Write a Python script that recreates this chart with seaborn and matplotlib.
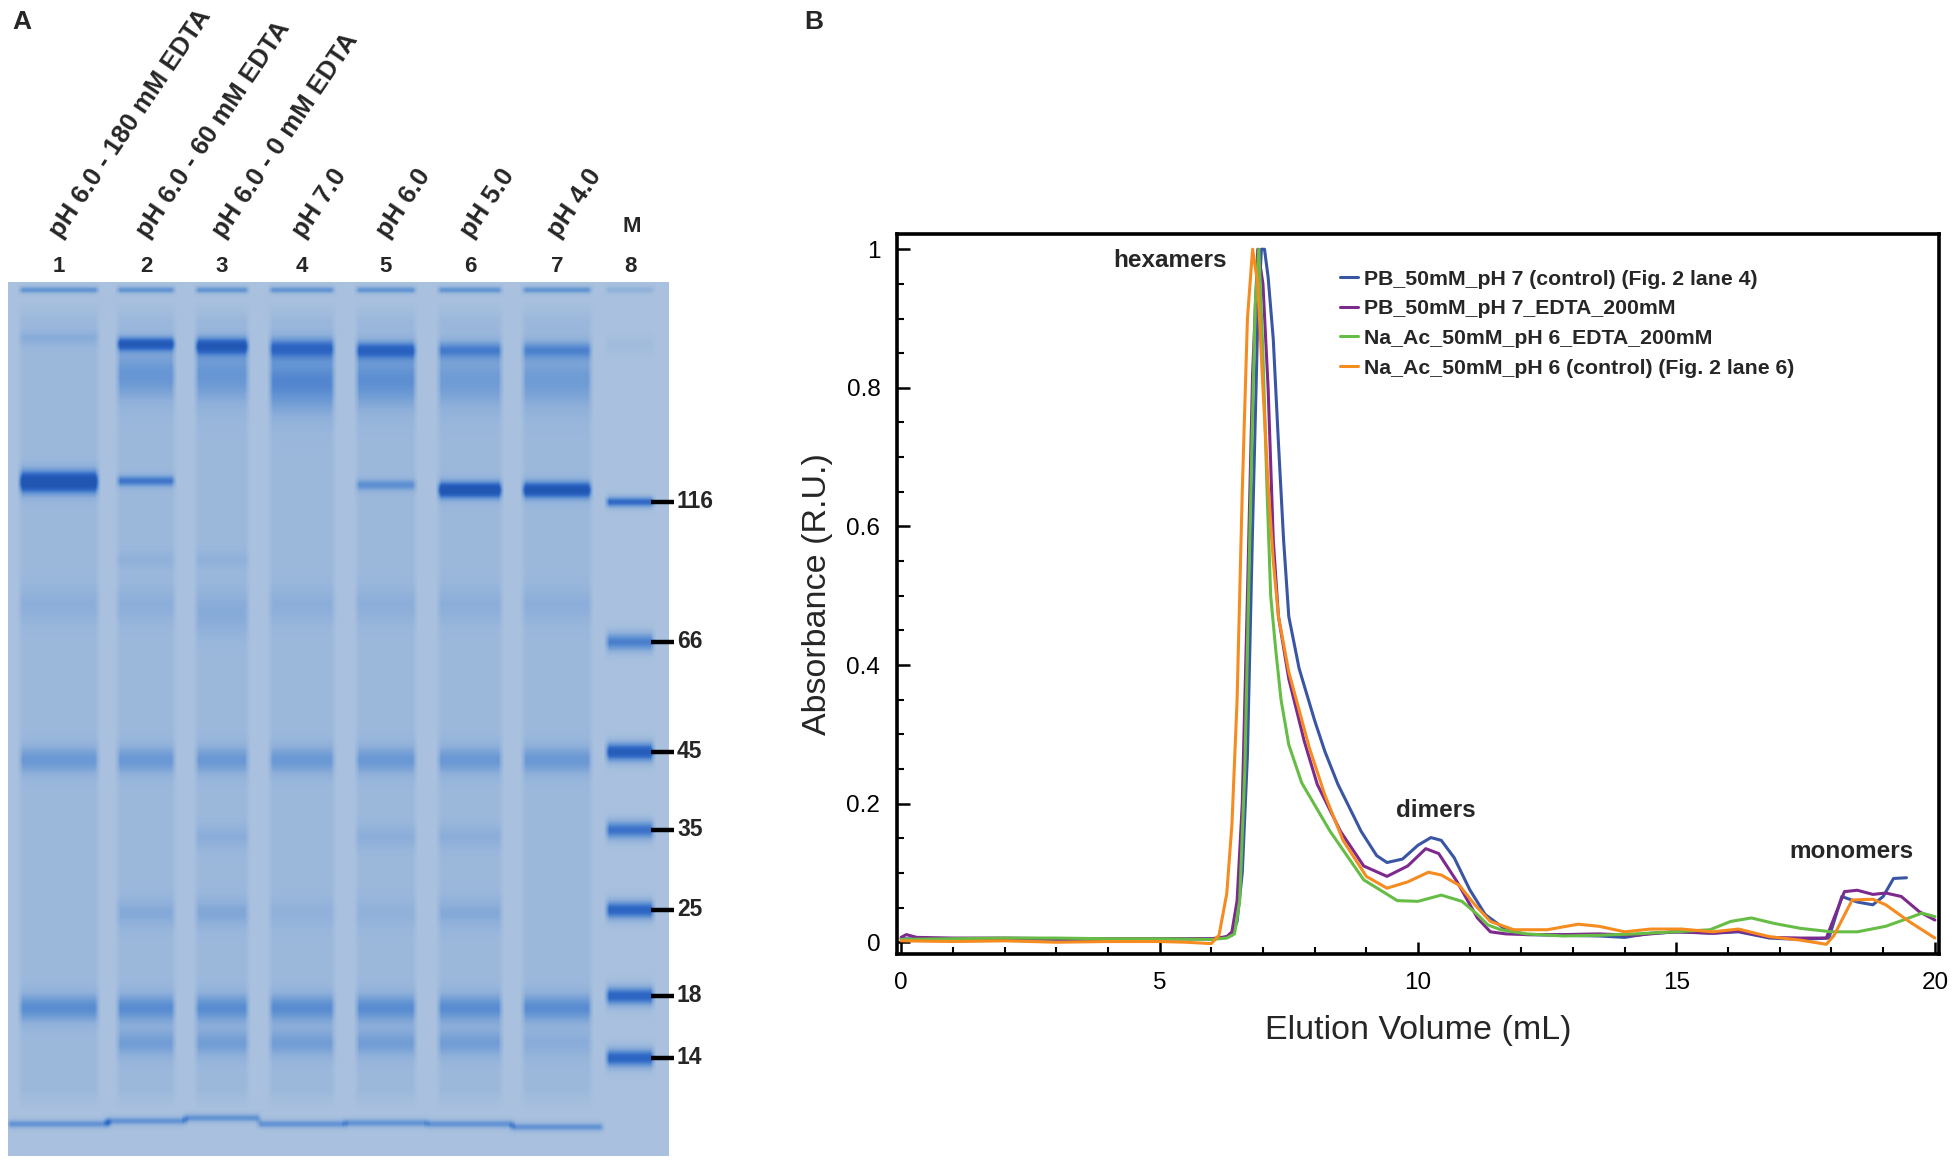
import numpy as np
import pandas as pd
import matplotlib
matplotlib.use("Agg")
import matplotlib.pyplot as plt
import seaborn as sns
from matplotlib.colors import LinearSegmentedColormap
from matplotlib.ticker import MultipleLocator

# ---------------- panel A: SDS-PAGE gel (band table) ----------------
lane_numbers = ["1", "2", "3", "4", "5", "6", "7", "8"]
lane_labels = ["pH 6.0 - 180 mM EDTA", "pH 6.0 - 60 mM EDTA", "pH 6.0 - 0 mM EDTA",
               "pH 7.0", "pH 6.0", "pH 5.0", "pH 4.0", "M"]
lane_centers = [59, 146, 222, 302, 386, 470, 557, 630]
lane_widths = [78, 57, 52, 64, 59, 63, 68, 47]

marker_kda = [116, 66, 45, 35, 25, 18, 14]
marker_pos = [502, 642, 752, 830, 910, 996, 1058]
marker_level = [0.75, 0.62, 0.9, 0.7, 0.8, 0.8, 0.8]

# (lane, position, stain level, spread)
well_bands = [(l, 290, 0.5 if l < 8 else 0.22, 2.5) for l in range(1, 9)]
top_bands = [(1, 338, 0.16, 5), (2, 344, 0.75, 5), (2, 375, 0.35, 18),
             (3, 346, 0.75, 6), (3, 375, 0.35, 20), (4, 348, 0.55, 7), (4, 382, 0.45, 22),
             (5, 350, 0.6, 6), (5, 380, 0.4, 20), (6, 350, 0.42, 6), (6, 380, 0.3, 20),
             (7, 350, 0.38, 6), (7, 380, 0.3, 20), (8, 345, 0.08, 6)]
main_bands = [(1, 482, 1.0, 8), (2, 481, 0.55, 4), (5, 485, 0.4, 4),
              (6, 490, 0.95, 6), (7, 490, 0.9, 6)]
sample_bands = ([(l, 605, 0.14, 12) for l in range(1, 8)] +
                [(2, 560, 0.1, 6), (3, 560, 0.1, 6), (3, 625, 0.1, 10)] +
                [(l, 760, 0.33, 10) for l in range(1, 8)] +
                [(3, 837, 0.15, 8), (5, 837, 0.14, 8), (6, 837, 0.14, 8)] +
                [(2, 913, 0.18, 10), (3, 913, 0.2, 10), (4, 913, 0.1, 10),
                 (5, 913, 0.1, 10), (6, 913, 0.18, 10)] +
                [(l, 1008, 0.42, 10) for l in range(1, 8)] +
                [(l, 1043, 0.28, 10) for l in range(2, 7)] + [(7, 1043, 0.15, 10)])
dye_front = [(1, 1124, 0.5, 3), (2, 1121, 0.5, 3), (3, 1118, 0.5, 3), (4, 1124, 0.5, 3),
             (5, 1123, 0.5, 3), (6, 1124, 0.5, 3), (7, 1127, 0.5, 3)]

# ---------------- panel B: SEC elution profiles ----------------
series_names = ["PB_50mM_pH 7 (control) (Fig. 2 lane 4)",
                "PB_50mM_pH 7_EDTA_200mM",
                "Na_Ac_50mM_pH 6_EDTA_200mM",
                "Na_Ac_50mM_pH 6 (control) (Fig. 2 lane 6)"]
series_colors = ["#3a55a4", "#7d2a8e", "#66bd46", "#f68b1f"]

pb_ctrl_x = [0, 1, 2, 3, 4, 5, 6, 6.2, 6.4, 6.5, 6.6, 6.7, 6.8, 6.9, 6.97, 7.03, 7.1,
             7.2, 7.3, 7.4, 7.5, 7.7, 8.0, 8.2, 8.45, 8.9, 9.2, 9.4, 9.7, 10.0, 10.25,
             10.45, 10.7, 11.0, 11.3, 11.7, 12.1, 12.8, 13.5, 14.0, 14.5, 15.1, 15.7,
             16.2, 16.8, 17.4, 17.95, 18.2, 18.5, 18.8, 19.0, 19.2, 19.45]
pb_ctrl_y = [0.005, 0.004, 0.005, 0.004, 0.004, 0.005, 0.005, 0.006, 0.01, 0.03, 0.1,
             0.27, 0.6, 0.9, 1.0, 1.0, 0.96, 0.87, 0.72, 0.58, 0.47, 0.395, 0.32, 0.275,
             0.228, 0.16, 0.125, 0.115, 0.12, 0.14, 0.151, 0.147, 0.122, 0.076, 0.04,
             0.018, 0.011, 0.01, 0.009, 0.007, 0.013, 0.015, 0.013, 0.015, 0.006,
             0.004, 0.006, 0.066, 0.058, 0.054, 0.066, 0.092, 0.093]

pb_edta_x = [0, 0.1, 0.3, 1, 2, 3, 4, 5, 6, 6.3, 6.4, 6.5, 6.6, 6.7, 6.8, 6.9, 7.0,
             7.1, 7.2, 7.3, 7.5, 7.8, 8.05, 8.5, 8.95, 9.4, 9.8, 10.15, 10.4, 10.75,
             11.15, 11.4, 11.7, 12.1, 12.8, 13.5, 14.2, 14.95, 15.7, 16.2, 16.8, 17.4,
             17.9, 18.05, 18.25, 18.5, 18.8, 19.05, 19.35, 19.7, 20.0]
pb_edta_y = [0.007, 0.011, 0.007, 0.006, 0.006, 0.005, 0.005, 0.005, 0.005, 0.008,
             0.015, 0.06, 0.2, 0.5, 0.82, 1.0, 0.95, 0.8, 0.58, 0.47, 0.38, 0.29,
             0.228, 0.16, 0.11, 0.095, 0.11, 0.135, 0.128, 0.088, 0.035, 0.015, 0.012,
             0.011, 0.011, 0.012, 0.01, 0.015, 0.013, 0.016, 0.007, 0.006, 0.006,
             0.035, 0.073, 0.075, 0.069, 0.071, 0.066, 0.044, 0.032]

na_edta_x = [0, 1, 2, 3, 4, 5, 6, 6.3, 6.45, 6.55, 6.65, 6.75, 6.85, 6.92, 7.0, 7.08,
             7.15, 7.25, 7.35, 7.5, 7.75, 8.3, 8.95, 9.6, 10.0, 10.45, 10.85, 11.15,
             11.35, 11.6, 12.1, 12.8, 13.5, 14.2, 14.95, 15.65, 16.05, 16.45, 16.9,
             17.4, 18.0, 18.5, 19.05, 19.5, 19.75, 20.0]
na_edta_y = [0.004, 0.005, 0.006, 0.006, 0.005, 0.005, 0.004, 0.006, 0.012, 0.06, 0.25,
             0.6, 0.92, 1.0, 0.85, 0.65, 0.5, 0.42, 0.35, 0.285, 0.23, 0.16, 0.09,
             0.06, 0.059, 0.068, 0.059, 0.04, 0.025, 0.018, 0.012, 0.009, 0.01, 0.012,
             0.015, 0.018, 0.03, 0.035, 0.027, 0.02, 0.015, 0.015, 0.023, 0.035, 0.042,
             0.037]

na_ctrl_x = [0, 1, 2, 3, 4, 5, 5.5, 6.0, 6.15, 6.3, 6.4, 6.5, 6.6, 6.7, 6.8, 6.9, 7.0,
             7.1, 7.2, 7.3, 7.5, 7.9, 8.2, 8.55, 9.0, 9.4, 9.8, 10.2, 10.45, 10.8, 11.1,
             11.4, 11.85, 12.5, 13.1, 13.5, 14.0, 14.5, 15.1, 15.7, 16.2, 16.8, 17.4,
             17.9, 18.05, 18.4, 18.8, 19.05, 19.5, 20.0]
na_ctrl_y = [0.002, 0.001, 0.002, 0.0, 0.001, 0.001, 0.0, -0.002, 0.01, 0.07, 0.17,
             0.35, 0.65, 0.9, 1.0, 0.95, 0.8, 0.66, 0.55, 0.47, 0.39, 0.28, 0.212,
             0.147, 0.095, 0.078, 0.087, 0.101, 0.097, 0.082, 0.054, 0.03, 0.018, 0.018,
             0.026, 0.023, 0.015, 0.019, 0.019, 0.015, 0.019, 0.008, 0.003, -0.003,
             0.01, 0.061, 0.062, 0.054, 0.03, 0.006]

peak_labels = ["hexamers", "dimers", "monomers"]
peak_label_x = [5.21, 10.34, 18.39]
peak_label_y = [0.984, 0.19, 0.131]

# ---------------- figure ----------------
sns.set_theme(style="white")
plt.rcParams['font.family'] = ['Liberation Sans', 'DejaVu Sans']

fig = plt.figure(figsize=(19.54, 11.75), dpi=100)
fig.patch.set_facecolor("white")

# ---- panel A
axg = fig.add_axes([0, 0, 700 / 1954, 1])
axg.set_xlim(0, 700)
axg.set_ylim(1175, 0)
axg.axis("off")

gel_left, gel_right, gel_top, gel_bottom = 8, 669, 282, 1156
gx = np.arange(gel_left, gel_right) + 0.5
gy = np.arange(gel_top, gel_bottom) + 0.5
GX, GY = np.meshgrid(gx, gy)


def lane_mask(lane, extra=0):
    c = lane_centers[lane - 1]
    w = lane_widths[lane - 1] + extra
    return np.clip((w / 2 - np.abs(GX - c)) / 6 + 0.5, 0, 1)


stain = np.zeros_like(GX)
for lane in range(1, 8):
    body = np.clip((GY - 300) / 20, 0, 1) * np.clip((1110 - GY) / 20, 0, 1)
    stain += 0.13 * lane_mask(lane) * body
for lane, pos, level, spread in well_bands + top_bands + main_bands + sample_bands:
    stain += level * lane_mask(lane) * np.exp(-0.5 * ((GY - pos) / spread) ** 2)
for lane, pos, level, spread in dye_front:
    stain += level * lane_mask(lane, 24) * np.exp(-0.5 * ((GY - pos) / spread) ** 2)
for pos, level in zip(marker_pos, marker_level):
    spread = 4 if pos < 560 else 7
    stain += level * lane_mask(8) * np.exp(-0.5 * ((GY - pos) / spread) ** 2)
stain = np.clip(stain, 0, 1)

gel_cmap = LinearSegmentedColormap.from_list(
    "coomassie", ["#a9c1de", "#8fb0da", "#6394d3", "#3169c6", "#2156b3"])
axg.imshow(stain, cmap=gel_cmap, vmin=0, vmax=1, aspect="auto", interpolation="bilinear",
           extent=[gel_left, gel_right, gel_bottom, gel_top], zorder=1)

for i, (num, lab) in enumerate(zip(lane_numbers, lane_labels)):
    cx = lane_centers[i]
    axg.text(cx, 267, num, ha="center", va="center", fontsize=16, fontweight="bold")
    if lab == "M":
        axg.text(cx + 2, 226, lab, ha="center", va="center", fontsize=16, fontweight="bold")
    else:
        axg.text(cx + 6, 242, lab, ha="left", va="bottom", rotation=56,
                 rotation_mode="anchor", fontsize=18.5, fontweight="bold")

for kda, pos in zip(marker_kda, marker_pos):
    axg.plot([651, 674], [pos, pos], color="black", lw=3.2, solid_capstyle="butt", zorder=3)
    axg.text(677, pos, str(kda), ha="left", va="center", fontsize=16.5, fontweight="bold")

fig.text(22 / 1954, 1 - 22 / 1175, "A", ha="center", va="center", fontsize=19, fontweight="bold")
fig.text(814 / 1954, 1 - 22 / 1175, "B", ha="center", va="center", fontsize=19, fontweight="bold")

# ---- panel B
ax = fig.add_axes([897 / 1954, 221 / 1175, 1042 / 1954, 720 / 1175])
frames = []
for name, xs, ys in zip(series_names,
                        [pb_ctrl_x, pb_edta_x, na_edta_x, na_ctrl_x],
                        [pb_ctrl_y, pb_edta_y, na_edta_y, na_ctrl_y]):
    frames.append(pd.DataFrame({"volume": xs, "absorbance": ys, "buffer": name}))
sec = pd.concat(frames, ignore_index=True)

sns.lineplot(data=sec, x="volume", y="absorbance", hue="buffer", hue_order=series_names,
             palette=dict(zip(series_names, series_colors)), linewidth=2.2,
             estimator=None, sort=False, ax=ax)

ax.set_xlim(-0.08, 20.08)
ax.set_ylim(-0.017, 1.022)
ax.xaxis.set_major_locator(MultipleLocator(5))
ax.xaxis.set_minor_locator(MultipleLocator(1))
ax.yaxis.set_major_locator(MultipleLocator(0.2))
ax.yaxis.set_minor_locator(MultipleLocator(0.05))
ax.set_xticks([0, 5, 10, 15, 20])
ax.set_xticklabels(["0", "5", "10", "15", "20"])
ax.set_yticks([0, 0.2, 0.4, 0.6, 0.8, 1.0])
ax.set_yticklabels(["0", "0.2", "0.4", "0.6", "0.8", "1"])
ax.tick_params(which="major", direction="in", length=9, width=1.8, labelsize=17.5,
               bottom=True, left=True, top=False, right=False, colors="black")
ax.tick_params(axis="x", which="major", pad=13)
ax.tick_params(axis="y", which="major", pad=12)
ax.tick_params(which="minor", direction="in", length=5, width=1.5,
               bottom=True, left=True, top=False, right=False, colors="black")
for sp in ax.spines.values():
    sp.set_linewidth(2.6)
    sp.set_color("black")
ax.set_xlabel("Elution Volume (mL)", fontsize=24.5, labelpad=15)
ax.set_ylabel("Absorbance (R.U.)", fontsize=24.5, labelpad=10)

for lab, lx, ly in zip(peak_labels, peak_label_x, peak_label_y):
    ax.text(lx, ly, lab, ha="center", va="center", fontsize=17.5, fontweight="bold")

handles, labels = ax.get_legend_handles_labels()
ax.legend(handles, labels, loc="upper left", bbox_to_anchor=(0.4251, 0.9505),
          frameon=False, prop={"weight": "bold", "size": 15.3},
          handlelength=0.85, handletextpad=0.3, labelspacing=0.5,
          borderaxespad=0, borderpad=0)

fig.savefig("out.png", dpi=100, facecolor="white")
